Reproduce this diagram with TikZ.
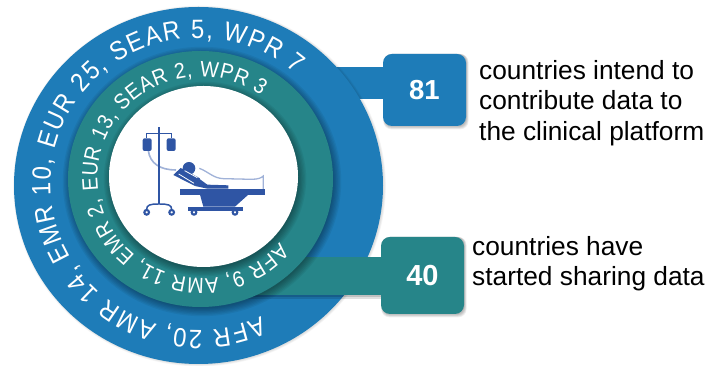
\documentclass[tikz,border=0pt]{standalone}
\usepackage{fontspec}
\setmainfont{Liberation Sans}
\newfontfamily\ringfont[FakeStretch=0.9]{Liberation Sans}
\usetikzlibrary{decorations.text}
\definecolor{ringblue}{RGB}{30,124,184}
\definecolor{ringteal}{RGB}{38,133,137}
\definecolor{iconblue}{RGB}{47,85,164}
\definecolor{iconlight}{RGB}{160,178,216}
\newcommand{\softell}[4]{% cx cy rx ry : blurred dark halo
  \foreach \k in {1,...,7}{
    \fill[black,opacity=0.055] (#1+1.5,#2-2.5) ellipse[x radius={#3+8-\k*1.3},y radius={#4+8-\k*1.3}];
  }}
\newcommand{\softbox}[4]{% x0 y0 x1 y1
  \foreach \k in {1,...,5}{
    \fill[black,opacity=0.06,rounded corners=8pt] (#1+\k*0.25,#2-4+\k*0.7) rectangle (#3+3-\k*0.5,#4);
  }}
\tikzset{
  x=1pt,y=1pt,
  numbox/.style={rounded corners=9pt,inner sep=0pt,text=white},
  caption/.style={anchor=north west,align=left,inner sep=0pt,text=black,font=\fontsize{26.3}{30.5}\selectfont},
  bar/.style={line cap=butt},
  iconline/.style={draw=iconblue,line width=2.1pt},
  iconthin/.style={draw=iconlight,line width=1.3pt},
  iconfill/.style={fill=iconblue},
}
\begin{document}
\begin{tikzpicture}
\useasboundingbox (0,0) rectangle (721,366);
\fill[white] (0,0) rectangle (721,366);
\coordinate (barA) at (335,283);
\coordinate (barB) at (250,90);
% upper bar + shadow of box
\softbox{383}{240}{466}{312}
\node[numbox,fill=ringblue,minimum width=83pt,minimum height=72pt] (boxA) at (424.5,276) {};
\draw[bar,ringblue,line width=32pt] (barA) -- (boxA.west |- barA);
\node[font=\fontsize{27.5}{27.5}\selectfont\bfseries,text=white,inner sep=0pt] (numA) at (boxA.center) {81};
% outer ring
\foreach \k in {1,...,4}{\fill[black,opacity=0.03] (199.5,180) ellipse[x radius={184.5+2.5-\k*0.6},y radius={178.5+2.5-\k*0.6}];}
\fill[ringblue] (198.5,180.5) ellipse[x radius=184.5,y radius=178.5];
% lower bar
\softbox{381}{52}{464}{129}
\fill[black,opacity=0.12] (230,67) rectangle (381,71);
\fill[black,opacity=0.14] (230,68.5) rectangle (381,71);
\node[numbox,fill=ringteal,minimum width=83pt,minimum height=77pt] (boxB) at (422.5,90.5) {};
\draw[bar,ringteal,line width=38pt] (barB) -- (boxB.west |- barB);
\node[font=\fontsize{29}{29}\selectfont\bfseries,text=white,inner sep=0pt] (numB) at (boxB.center) {40};
% teal ring
\softell{200.5}{187}{132.5}{128}
\fill[ringteal] (200.5,187) ellipse[x radius=132.5,y radius=128];
% white disc
\softell{203.5}{189.5}{94.5}{90.5}
\fill[white] (203.5,189.5) ellipse[x radius=94.5,y radius=90.5];
% curved labels
\path[decorate,decoration={text along path,text align={fit to path},
  text={|\ringfont\fontsize{26.5}{26.5}\selectfont\color{white}|AFR 20, AMR 14, EMR 10, EUR 25, SEAR 5, WPR 7}}]
  (198.5,182) ++(-65:148 and 146) arc[start angle=-65,end angle=-311,x radius=148,y radius=146];
\path[decorate,decoration={text along path,text align={fit to path},
  text={|\ringfont\fontsize{22}{22}\selectfont\color{white}|AFR 9, AMR 11, EMR 2, EUR 13, SEAR 2, WPR 3}}]
  (200.5,188.5) ++(-40:103 and 101) arc[start angle=-40,end angle=-306,x radius=103,y radius=101];
% captions
\node[caption] (capA) at (479,366-60) {countries intend to\\contribute data to\\the clinical platform};
\node[caption] (capB) at (472,366-236) {countries have\\started sharing data};
% icon (coordinates in reference pixels)
\begin{scope}[shift={(120,256)},x=0.3333pt,y=-0.3333pt]
  \draw[iconthin,line width=1.6pt] (85,122) .. controls (90,160) and (120,180) .. (168,180);
  \draw[iconthin] (238,175) .. controls (265,185) and (280,205) .. (310,206) -- (395,208) .. controls (415,208) and (425,203) .. (430,198) -- (430,238);
  \draw[iconline] (117,52) -- (117,282);
  \draw[iconline,line width=1.5pt] (80,70) -- (155,70);
  \draw[iconline,line width=1.2pt] (80,70) -- (80,85) (155,70) -- (155,85);
  \fill[iconfill,rounded corners=2pt] (68,85) rectangle (95,123);
  \fill[iconfill,rounded corners=2pt] (140,85) rectangle (167,123);
  \draw[iconline,line width=1.5pt] (80,298) .. controls (80,285) and (90,282) .. (117,282) .. controls (145,282) and (155,285) .. (155,298);
  \draw[iconline] (80,307) circle[radius=7];
  \draw[iconline] (155,307) circle[radius=7];
  \fill[iconfill] (180,238) rectangle (435,254);
  \fill[iconfill] (240,254) -- (385,254) -- (345,290) -- (250,290) -- cycle;
  \fill[iconfill] (203,291) rectangle (370,302);
  \draw[iconline] (222,307) circle[radius=7];
  \draw[iconline] (345,307) circle[radius=7];
  \fill[iconfill] (160,195) -- (182,174) -- (240,205) -- (225,228) -- cycle;
  \fill[iconfill] (207,175) circle[radius=19];
  \draw[white,line width=0.8pt] (176,192) -- (222,220) (194,182) -- (232,203);
  \fill[iconfill] (225,228) -- (262,236) -- (325,236) -- (325,226) -- (262,224) -- (236,205) -- cycle;
\end{scope}
\end{tikzpicture}
\end{document}
